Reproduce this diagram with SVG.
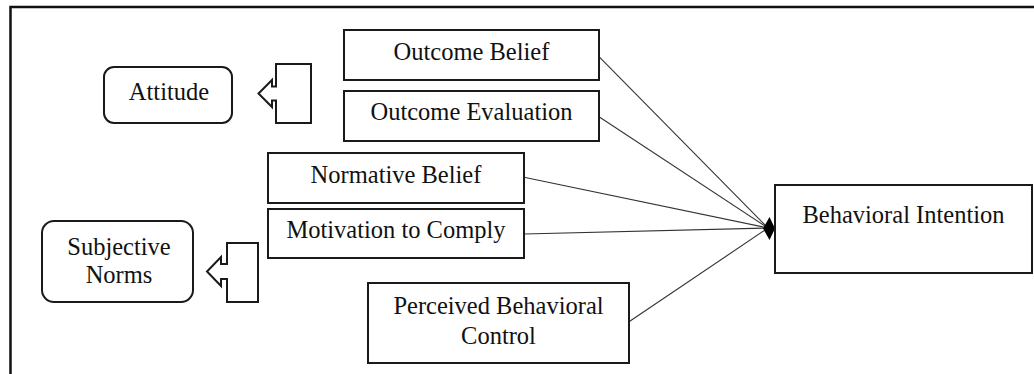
<svg xmlns="http://www.w3.org/2000/svg" width="1034" height="374" viewBox="0 0 1034 374">
<style>
.box{fill:#fff;stroke:#1a1a1a;stroke-width:2}
.arr{fill:#fff;stroke:#1a1a1a;stroke-width:2;stroke-linejoin:miter}
.t{font-family:'Liberation Serif','Times New Roman',serif;font-size:24.5px;fill:#111;text-anchor:middle}
.c{stroke:#333;stroke-width:1.1;fill:none}
</style>
<rect width="1034" height="374" fill="#fff"/>
<path d="M10.5,374 V7 H1034" fill="none" stroke="#111" stroke-width="2.5"/>
<g id="connectors">
<line class="c" x1="599" y1="56.7" x2="768" y2="228"/>
<line class="c" x1="599" y1="116.7" x2="768" y2="228"/>
<line class="c" x1="524" y1="177.3" x2="768" y2="228"/>
<line class="c" x1="524" y1="234" x2="768" y2="228"/>
<line class="c" x1="629" y1="321.7" x2="768" y2="228"/>
<path d="M775,228.5 L769.5,217 L763,228.5 L769.5,240 Z" fill="#000"/>
</g>
<g id="outcome-belief">
<rect class="box" x="344" y="30" width="255" height="50"/>
<text class="t" x="471.5" y="59.5">Outcome Belief</text>
</g>
<g id="outcome-evaluation">
<rect class="box" x="344" y="91" width="255" height="50"/>
<text class="t" x="471.5" y="120">Outcome Evaluation</text>
</g>
<g id="normative-belief">
<rect class="box" x="268" y="153" width="256" height="50"/>
<text class="t" x="396" y="182.5">Normative Belief</text>
</g>
<g id="motivation-to-comply">
<rect class="box" x="268" y="209" width="256" height="49"/>
<text class="t" x="396" y="238">Motivation to Comply</text>
</g>
<g id="perceived-behavioral-control">
<rect class="box" x="368" y="283" width="261" height="80"/>
<text class="t" x="498.5" y="314">Perceived Behavioral</text>
<text class="t" x="498.5" y="344">Control</text>
</g>
<g id="behavioral-intention">
<rect class="box" x="775" y="185" width="257" height="88"/>
<text class="t" x="903.5" y="223">Behavioral Intention</text>
</g>
<g id="attitude">
<rect class="box" x="104" y="67" width="128" height="56" rx="10" ry="10"/>
<text class="t" x="169" y="100">Attitude</text>
</g>
<g id="attitude-arrow">
<path class="arr" d="M276,64 H311 V123 H276 V100.5 H272 V107 L258.5,93.5 L272,80 V86.5 H276 Z"/>
</g>
<g id="subjective-norms">
<rect class="box" x="42" y="221" width="151" height="81" rx="12" ry="12"/>
<text class="t" x="119" y="255">Subjective</text>
<text class="t" x="119" y="283">Norms</text>
</g>
<g id="subjective-norms-arrow">
<path class="arr" d="M227,243 H258 V302 H227 V279 H221 V286 L207,271.5 L221,257 V264 H227 Z"/>
</g>
</svg>
